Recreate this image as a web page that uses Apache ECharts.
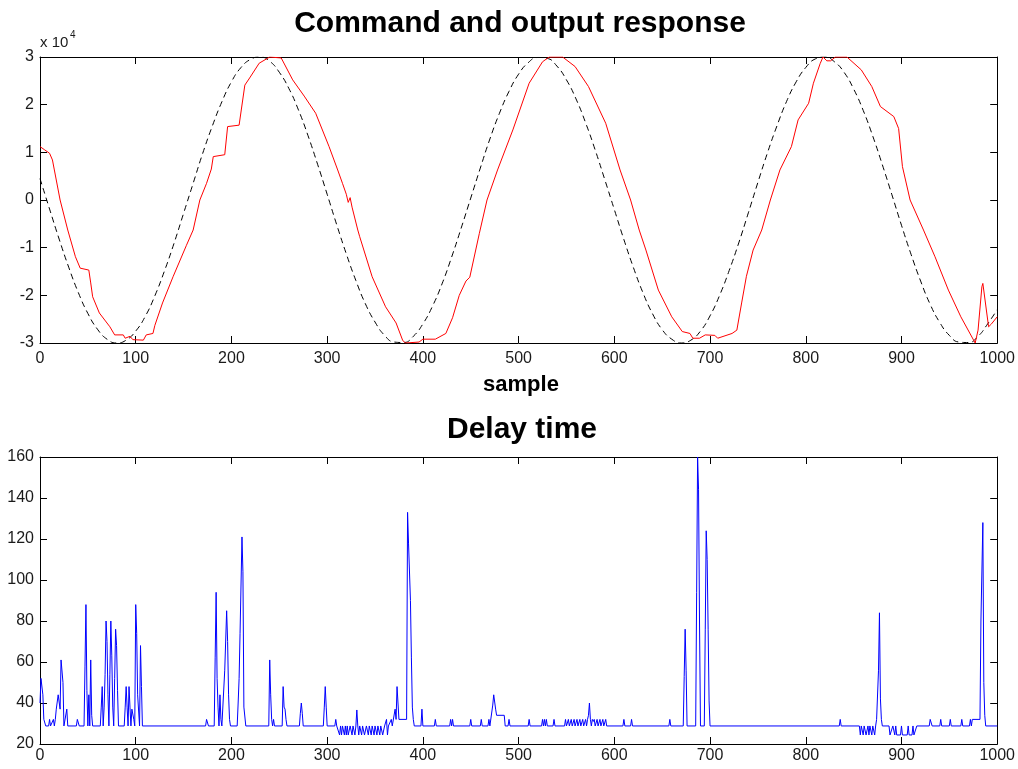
<!DOCTYPE html>
<html><head><meta charset="utf-8">
<script src="https://cdn.jsdelivr.net/npm/echarts@6/dist/echarts.min.js"></script>
<style>html,body{margin:0;padding:0;background:#fff}#c{width:1018px;height:769px}</style>
</head><body><div id="c"></div>
<script>
// Command (black dashed), x 10^4
const cmdX = [0,10,20,30,40,50,60,70,80,90,100,110,120,130,140,150,160,170,180,190,200,210,220,230,240,250,260,270,280,290,300,310,320,330,340,350,360,370,380,390,400,410,420,430,440,450,460,470,480,490,500,510,520,530,540,550,560,570,580,590,600,610,620,630,640,650,660,670,680,690,700,710,720,730,740,750,760,770,780,790,800,810,820,830,840,850,860,870,880,890,900,910,920,930,940,950,960,970,980,990,1000];
const cmdY = [0.45,-0.19,-0.82,-1.41,-1.94,-2.38,-2.71,-2.92,-3.00,-2.94,-2.75,-2.44,-2.01,-1.49,-0.91,-0.28,0.35,0.98,1.55,2.06,2.48,2.78,2.95,3.00,2.91,2.68,2.34,1.89,1.35,0.75,0.12,-0.52,-1.13,-1.69,-2.18,-2.56,-2.84,-2.98,-2.99,-2.86,-2.60,-2.23,-1.76,-1.20,-0.59,0.04,0.67,1.28,1.82,2.28,2.64,2.88,2.99,2.97,2.81,2.52,2.12,1.62,1.05,0.43,-0.20,-0.83,-1.42,-1.95,-2.39,-2.72,-2.92,-3.00,-2.94,-2.75,-2.43,-2.00,-1.48,-0.90,-0.27,0.37,0.99,1.56,2.07,2.48,2.78,2.96,3.00,2.90,2.68,2.33,1.88,1.34,0.74,0.11,-0.53,-1.14,-1.70,-2.19,-2.57,-2.84,-2.98,-2.99,-2.86,-2.60,-2.30];
// Output response (red), x 10^4
const outX = [0,5,10,13,15,21,29,37,42,51,53,55,62,73,78,87,89,94,97,108,111,118,120,128,139,153,160,167,174,179,181,193,196,208,214,219,229,240,252,264,276,288,302,311,316,320,322,324,326,332,334,347,361,372,379,382,396,400,413,424,431,438,445,449,459,467,478,494,511,525,532,546,559,573,591,606,617,626,633,646,660,671,679,682,689,695,705,708,723,728,733,738,745,754,763,773,785,792,803,808,815,818,822,826,831,843,858,869,878,892,897,901,909,923,935,949,962,977,980,984,985,991,994,1000];
const outY = [1.12,1.05,0.98,0.84,0.63,0.0,-0.63,-1.19,-1.43,-1.47,-1.74,-2.03,-2.37,-2.66,-2.83,-2.83,-2.90,-2.86,-2.93,-2.94,-2.83,-2.80,-2.63,-2.16,-1.61,-0.95,-0.63,0.0,0.35,0.65,0.91,0.95,1.54,1.57,2.41,2.56,2.87,3.0,2.98,2.52,2.18,1.82,1.12,0.63,0.35,0.12,-0.05,0.05,-0.15,-0.63,-0.77,-1.61,-2.24,-2.58,-2.95,-3.0,-2.98,-2.92,-2.92,-2.80,-2.47,-2.00,-1.70,-1.62,-0.70,0.0,0.63,1.47,2.45,2.90,3.0,3.0,2.80,2.38,1.61,0.63,0.0,-0.63,-1.05,-1.89,-2.45,-2.76,-2.80,-2.90,-2.90,-2.83,-2.84,-2.90,-2.80,-2.73,-2.16,-1.60,-1.05,-0.63,0.0,0.63,1.12,1.68,2.03,2.45,2.86,3.0,2.92,2.92,3.0,3.0,2.73,2.38,1.96,1.75,1.50,0.70,0.0,-0.63,-1.19,-1.89,-2.45,-3.0,-2.73,-1.82,-1.75,-2.66,-2.60,-2.45];
// Delay time (blue): [sample, delay]
const delayPoints = [
[0,40],[1,52],[2,52],[3,44],[4,32],[5,32],[6,28.8],
[9,28.8],[10,32],[11,28.8],
[13,28.8],[14,32],[15,28.8],[16,32],
[17,37],[18,37],[19,44],[20,44],[21,37],[22,61],[23,61],[24,50],[25,28.8],
[27,28.8],[28,37],[29,28.8],
[38,28.8],[39,32],[40,32],[41,28.8],
[46,28.8],[47,58],[48,88],[49,46],[50,28.8],[51,44],[52,28.8],[53,61],[54,34],[55,28.8],
[63,28.8],[64,38],[65,48],[66,28.8],[67,38],[68,54],[69,80],[70,70],[71,44],[72,28.8],[73,54],[74,80],[75,63],[76,38],[77,28.8],[78,52],[79,76],[80,68],[81,46],[82,28.8],
[88,28.8],[89,38],[90,48],[91,38],[92,28.8],[93,48],[94,38],[95,28.8],[96,37],[97,37],[98,32],[99,28.8],[100,88],[101,74],[102,44],[103,44],[104,28.8],[105,68],[106,48],[107,28.8],
[173,28.8],[174,32],[175,32],[176,28.8],
[182,28.8],[183,62],[184,94],[185,52],[186,38],[187,28.8],[188,44],[189,32],[190,28.8],
[192,28.8],[193,56],[194,56],[195,85],[196,70],[197,44],[198,32],[199,28.8],
[206,28.8],[207,40],[208,52],[209,74],[210,74],[211,121],[212,104],[213,38],[214,38],[215,28.8],
[239,28.8],[240,61],[241,44],[242,32],[243,28.8],[244,32],[245,28.8],
[253,28.8],[254,48],[255,38],[256,37],[257,32],[258,28.8],
[271,28.8],[272,35],[273,40],[274,35],[275,28.8],
[296,28.8],[297,38],[298,48],[299,38],[300,28.8],
[308,28.8],[309,32],[310,28.8],
[312,28.8],[313,24.4],[314,28.8],[315,24.4],[316,28.8],[318,24.4],[319,28.8],[320,24.4],[321,28.8],[322,24.4],[323,24.4],[324,28.8],[326,24.4],[327,28.8],[329,24.4],[330,28.8],[331,36.6],[332,28.8],[333,24.4],[334,28.8],[336,24.4],[337,28.8],[339,24.4],[340,24.4],[341,28.8],[343,24.4],[344,28.8],[346,24.4],[347,28.8],[349,24.4],[350,28.8],[352,24.4],[353,28.8],[355,24.4],[356,28.8],[358,24.4],[359,24.4],[360,28.8],[362,32],[363,24.4],[364,28.8],
[366,28.8],[367,32],[368,28.8],[370,28.8],[371,37],[372,32],[373,48],[374,40],[375,32],[383,32],[384,133],[385,118],[386,118],[387,90],[388,62],[389,38],[390,32],[391,28.8],
[398,28.8],[399,37],[400,28.8],
[412,28.8],[413,32],[414,28.8],
[428,28.8],[429,32],[430,28.8],[431,32],[432,28.8],
[449,28.8],[450,32],[451,28.8],
[460,28.8],[461,32],[462,28.8],
[468,28.8],[469,32],[470,28.8],[472,28.8],[473,39],[474,44],[475,44],[476,37],[477,34],[485,34],[486,28.8],
[489,28.8],[490,32],[491,28.8],
[510,28.8],[511,32],[512,28.8],
[524,28.8],[525,32],[526,28.8],[527,32],[528,28.8],[529,32],[530,28.8],
[536,28.8],[537,32],[538,28.8],
[548,28.8],[549,32],[550,28.8],[552,32],[553,28.8],[555,32],[556,28.8],[558,32],[559,28.8],[561,32],[562,28.8],[564,32],[565,28.8],[567,32],[568,28.8],[570,32],[571,28.8],[572,32],[573,34],[574,40],[575,32],[576,28.8],[577,32],[578,31],[579,32],[580,28.8],[582,32],[583,28.8],[585,32],[586,28.8],[588,32],[589,28.8],[591,32],[592,28.8],
[609,28.8],[610,32],[611,28.8],
[617,28.8],[618,32],[619,28.8],
[657,28.8],[658,32],[659,28.8],
[672,28.8],[673,53],[674,76],[675,56],[676,28.8],
[685,28.8],[686,94],[687,160],[688,144],[689,80],[690,28.8],
[694,28.8],[695,76],[696,124],[697,110],[698,76],[699,41],[700,28.8],
[835,28.8],[836,32],[837,28.8],
[856,28.8],[857,24.4],[858,28.8],[860,24.4],[861,28.8],[863,24.4],[864,24.4],[865,28.8],[866,24.4],[867,28.8],[869,24.4],[870,28.8],[872,24.4],[873,28.8],[874,32],[875,32],[876,56],[877,84],[878,42],[879,32],[880,28.8],
[887,28.8],[888,24.4],[890,24.4],[891,28.8],[893,24.4],[894,28.8],[895,24.4],[899,24.4],[900,28.8],[901,24.4],[906,24.4],[907,28.8],[908,24.4],[911,24.4],[912,28.8],[913,24.4],[915,24.4],[916,28.8],
[929,28.8],[930,32],[931,32],[932,28.8],
[940,28.8],[941,32],[942,28.8],
[950,28.8],[951,32],[952,28.8],
[962,28.8],[963,32],[964,28.8],
[971,28.8],[972,32],[973,28.8],[974,32],[982,32],[983,80],[984,80],[985,128],[986,50],[987,34],[988,28.8],[1000,28.8]
];

const zip = (xs, ys) => xs.map((x, i) => [x, ys[i]]);
const FONT = 'Liberation Sans';
const AX = '#000';
const labelStyle = {color: '#1a1a1a', fontSize: 16, fontFamily: FONT, formatter: v => String(v)};

function xAxisDef(grid, pos, show, margin) {
  return {
    type: 'value', gridIndex: grid, position: pos, min: 0, max: 1000, interval: 100,
    axisLine: {show: true, onZero: false, lineStyle: {color: AX, width: 1}},
    axisTick: {show: true, inside: true, length: 7, lineStyle: {color: AX}},
    axisLabel: Object.assign({show: show, margin: margin}, labelStyle),
    splitLine: {show: false}
  };
}
function yAxisDef(grid, pos, show, min, max, interval) {
  return {
    type: 'value', gridIndex: grid, position: pos, min: min, max: max, interval: interval,
    axisLine: {show: true, onZero: false, lineStyle: {color: AX, width: 1}},
    axisTick: {show: true, inside: true, length: 7, lineStyle: {color: AX}},
    axisLabel: Object.assign({show: show, margin: 6}, labelStyle),
    splitLine: {show: false}
  };
}

const chart = echarts.init(document.getElementById('c'), null, {renderer: 'canvas'});
chart.setOption({
  animation: false,
  backgroundColor: '#fff',
  grid: [
    {left: 40, top: 57, width: 959, height: 286},
    {left: 40, top: 457, width: 959, height: 287}
  ],
  xAxis: [
    xAxisDef(0, 'bottom', true, 8),
    xAxisDef(0, 'top', false, 8),
    xAxisDef(1, 'bottom', true, 4),
    xAxisDef(1, 'top', false, 4)
  ],
  yAxis: [
    yAxisDef(0, 'left', true, -3, 3, 1),
    yAxisDef(0, 'right', false, -3, 3, 1),
    yAxisDef(1, 'left', true, 20, 160, 20),
    yAxisDef(1, 'right', false, 20, 160, 20)
  ],
  series: [
    {type: 'line', xAxisIndex: 0, yAxisIndex: 0, data: zip(cmdX, cmdY), smooth: true, showSymbol: false,
     lineStyle: {color: '#000', width: 1, type: [6, 4]}},
    {type: 'line', xAxisIndex: 0, yAxisIndex: 0, data: zip(outX, outY), showSymbol: false,
     lineStyle: {color: '#ff0000', width: 1}},
    {type: 'line', xAxisIndex: 2, yAxisIndex: 2, data: delayPoints, showSymbol: false,
     lineStyle: {color: '#0000ff', width: 1}}
  ],
  graphic: [
    {type: 'text', x: 520, y: 24, style: {text: 'Command and output response', font: 'bold 30px "' + FONT + '"', fill: '#000', textAlign: 'center', textVerticalAlign: 'middle'}},
    {type: 'text', x: 521, y: 385, style: {text: 'sample', font: 'bold 22px "' + FONT + '"', fill: '#000', textAlign: 'center', textVerticalAlign: 'middle'}},
    {type: 'text', x: 522, y: 430, style: {text: 'Delay time', font: 'bold 30px "' + FONT + '"', fill: '#000', textAlign: 'center', textVerticalAlign: 'middle'}},
    {type: 'text', x: 40, y: 43, style: {text: 'x 10', font: '15px "' + FONT + '"', fill: '#1a1a1a', textAlign: 'left', textVerticalAlign: 'middle'}},
    {type: 'text', x: 70, y: 35, style: {text: '4', font: '10px "' + FONT + '"', fill: '#1a1a1a', textAlign: 'left', textVerticalAlign: 'middle'}}
  ]
});
</script>
</body></html>
